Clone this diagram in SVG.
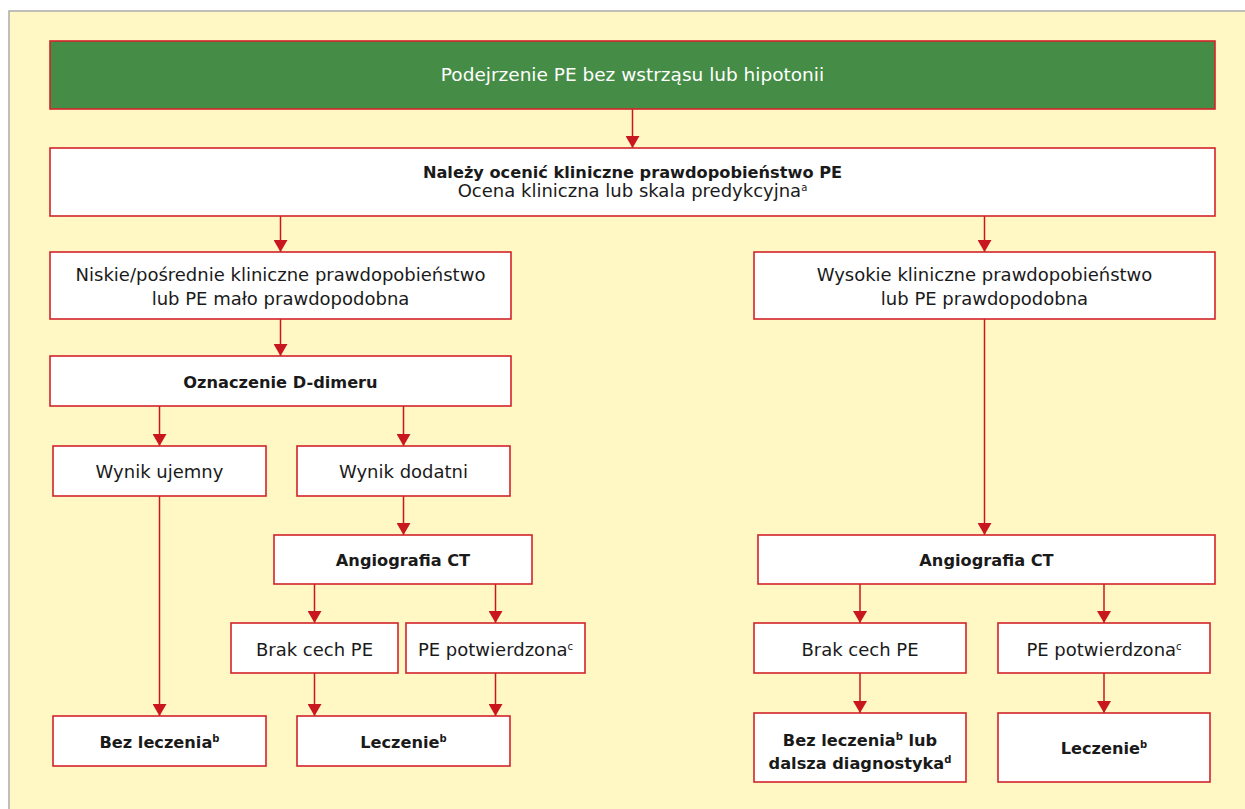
<svg xmlns="http://www.w3.org/2000/svg" width="1245" height="809" viewBox="0 0 1245 809">
<defs>
<style>
.box{fill:#ffffff;stroke:#d3232a;stroke-width:1.6}
.hdr{fill:#458c46;stroke:#d3232a;stroke-width:1.6}
.t{font-family:"DejaVu Sans","Liberation Sans",sans-serif;font-size:18px;fill:#1a1a1a;text-anchor:middle}
.b{font-weight:bold;font-size:16.2px}
.w{fill:#ffffff;font-size:18.5px}
.sup{font-size:10px}
.c{stroke:#c8171e;stroke-width:1.5;fill:none;marker-end:url(#ah)}
</style>
<marker id="ah" viewBox="0 0 12 14" refX="12" refY="7" markerWidth="12" markerHeight="14" markerUnits="userSpaceOnUse" orient="auto">
<path d="M0,0 L12,7 L0,14 z" fill="#c8171e"/>
</marker>
</defs>
<rect x="9" y="11" width="1260" height="820" fill="#fff8c5" stroke="#aaaaaa" stroke-width="1.5"/>
<g id="connectors">
<line class="c" x1="632.5" y1="109" x2="632.5" y2="148"/>
<line class="c" x1="280.5" y1="216" x2="280.5" y2="252"/>
<line class="c" x1="984.5" y1="216" x2="984.5" y2="252"/>
<line class="c" x1="280.5" y1="319" x2="280.5" y2="356"/>
<line class="c" x1="159.5" y1="406" x2="159.5" y2="446"/>
<line class="c" x1="403.5" y1="406" x2="403.5" y2="446"/>
<line class="c" x1="403.5" y1="496" x2="403.5" y2="535"/>
<line class="c" x1="159.5" y1="496" x2="159.5" y2="716"/>
<line class="c" x1="984.5" y1="319" x2="984.5" y2="535"/>
<line class="c" x1="314.5" y1="584" x2="314.5" y2="623"/>
<line class="c" x1="495.5" y1="584" x2="495.5" y2="623"/>
<line class="c" x1="860" y1="584" x2="860" y2="623"/>
<line class="c" x1="1104" y1="584" x2="1104" y2="623"/>
<line class="c" x1="314.5" y1="673" x2="314.5" y2="716"/>
<line class="c" x1="495.5" y1="673" x2="495.5" y2="716"/>
<line class="c" x1="860" y1="673" x2="860" y2="713"/>
<line class="c" x1="1104" y1="673" x2="1104" y2="713"/>
</g>
<g id="n-header"><rect class="hdr" x="50" y="41" width="1165" height="68"/><text class="t w" x="632.5" y="81">Podejrzenie PE bez wstrząsu lub hipotonii</text></g>
<g id="n-ocena"><rect class="box" x="50" y="148" width="1165" height="68"/><text class="t b" x="632.5" y="178">Należy ocenić kliniczne prawdopobieństwo PE</text><text class="t" x="632.5" y="197">Ocena kliniczna lub skala predykcyjna<tspan class="sup" dy="-6">a</tspan></text></g>
<g id="n-niskie"><rect class="box" x="50" y="252" width="461" height="67"/><text class="t" x="280.5" y="281">Niskie/pośrednie kliniczne prawdopobieństwo</text><text class="t" x="280.5" y="305">lub PE mało prawdopodobna</text></g>
<g id="n-wysokie"><rect class="box" x="754" y="252" width="461" height="67"/><text class="t" x="984.5" y="281">Wysokie kliniczne prawdopobieństwo</text><text class="t" x="984.5" y="305">lub PE prawdopodobna</text></g>
<g id="n-ddimer"><rect class="box" x="50" y="356" width="461" height="50"/><text class="t b" x="280.5" y="388">Oznaczenie D-dimeru</text></g>
<g id="n-ujemny"><rect class="box" x="53" y="446" width="213" height="50"/><text class="t" x="159.5" y="478">Wynik ujemny</text></g>
<g id="n-dodatni"><rect class="box" x="297" y="446" width="213" height="50"/><text class="t" x="403.5" y="478">Wynik dodatni</text></g>
<g id="n-angio1"><rect class="box" x="274" y="535" width="258" height="49"/><text class="t b" x="403" y="566">Angiografia CT</text></g>
<g id="n-brak1"><rect class="box" x="231" y="623" width="167" height="50"/><text class="t" x="314.5" y="656">Brak cech PE</text></g>
<g id="n-potw1"><rect class="box" x="406" y="623" width="179" height="50"/><text class="t" x="495.5" y="656">PE potwierdzona<tspan class="sup" dy="-6">c</tspan></text></g>
<g id="n-bez1"><rect class="box" x="53" y="716" width="213" height="50"/><text class="t b" x="159.5" y="748">Bez leczenia<tspan class="sup" dy="-6">b</tspan></text></g>
<g id="n-lecz1"><rect class="box" x="297" y="716" width="213" height="50"/><text class="t b" x="403.5" y="748">Leczenie<tspan class="sup" dy="-6">b</tspan></text></g>
<g id="n-angio2"><rect class="box" x="758" y="535" width="457" height="49"/><text class="t b" x="986.5" y="566">Angiografia CT</text></g>
<g id="n-brak2"><rect class="box" x="754" y="623" width="212" height="50"/><text class="t" x="860" y="656">Brak cech PE</text></g>
<g id="n-potw2"><rect class="box" x="998" y="623" width="212" height="50"/><text class="t" x="1104" y="656">PE potwierdzona<tspan class="sup" dy="-6">c</tspan></text></g>
<g id="n-bez2"><rect class="box" x="754" y="713" width="212" height="69"/><text class="t b" x="860" y="746">Bez leczenia<tspan class="sup" dy="-6">b</tspan><tspan dy="6"> lub</tspan></text><text class="t b" x="860" y="769">dalsza diagnostyka<tspan class="sup" dy="-6">d</tspan></text></g>
<g id="n-lecz2"><rect class="box" x="998" y="713" width="212" height="69"/><text class="t b" x="1104" y="754">Leczenie<tspan class="sup" dy="-6">b</tspan></text></g>
</svg>
